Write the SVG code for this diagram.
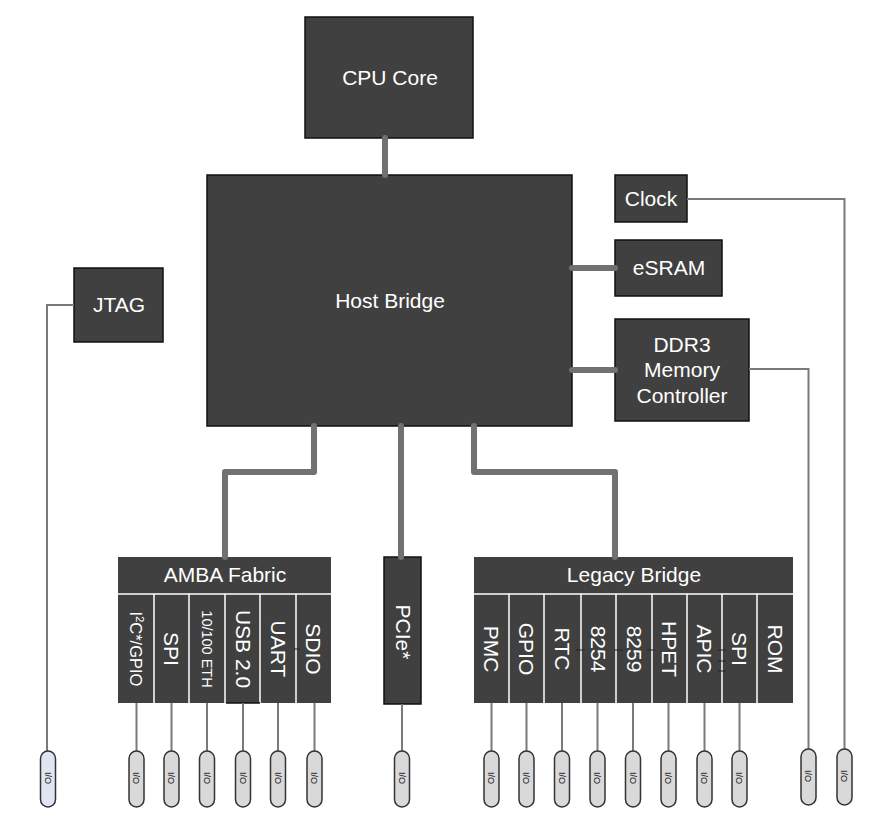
<svg xmlns="http://www.w3.org/2000/svg" width="892" height="820" viewBox="0 0 892 820">
<style>
.box{fill:#404040;stroke:#111;stroke-width:1.5}
.blk{fill:#404040}
.sep{stroke:#fff;stroke-width:1.5}
.t{font-family:"Liberation Sans",Arial,sans-serif;font-size:21px;fill:#fff;text-anchor:middle}
.bus{fill:none;stroke:#717171;stroke-width:6;stroke-linecap:round;stroke-linejoin:round}
.wire{fill:none;stroke:#7a7a7a;stroke-width:2}
.pill{fill:#d9d9d9;stroke:#333;stroke-width:1.5}
.pill2{fill:#dfe6f2;stroke:#333;stroke-width:1.5}
.io{font-family:"Liberation Sans",Arial,sans-serif;font-size:9px;fill:#111;text-anchor:middle}
.dash{stroke:#222;stroke-width:1}
</style>
<rect width="892" height="820" fill="#fff"/>

<g id="cpu-core"><rect class="box" x="305" y="17" width="168" height="121"/><text class="t" x="390" y="85">CPU Core</text></g>
<g id="host-bridge"><rect class="box" x="207" y="175" width="365" height="251"/><text class="t" x="390" y="308">Host Bridge</text></g>
<g id="clock"><rect class="box" x="615" y="175" width="72" height="47"/><text class="t" x="651" y="206">Clock</text></g>
<g id="esram"><rect class="box" x="615" y="240" width="107" height="56"/><text class="t" x="669" y="275">eSRAM</text></g>
<g id="ddr3"><rect class="box" x="615" y="319" width="134" height="102"/><text class="t" x="682" y="352">DDR3</text><text class="t" x="682" y="377">Memory</text><text class="t" x="682" y="403">Controller</text></g>
<g id="jtag"><rect class="box" x="74" y="268" width="89" height="74"/><text class="t" x="119" y="312">JTAG</text></g>

<g id="amba-fabric">
<rect class="blk" x="118" y="557" width="213" height="146"/>
<text class="t" x="225" y="582">AMBA Fabric</text>
<line class="sep" x1="118" y1="594" x2="331" y2="594"/>
<line class="sep" x1="154" y1="594" x2="154" y2="703"/>
<line class="sep" x1="189" y1="594" x2="189" y2="703"/>
<line class="sep" x1="225" y1="594" x2="225" y2="703"/>
<line class="sep" x1="260" y1="594" x2="260" y2="703"/>
<line class="sep" x1="296" y1="594" x2="296" y2="703"/>
<line x1="226" y1="703" x2="260" y2="703" stroke="#111" stroke-width="1.5"/>
<line class="dash" x1="294" y1="649" x2="300" y2="649"/>
<text class="t" style="font-size:16.5px" transform="translate(136,649) rotate(90)" y="6">I<tspan font-size="11" dy="-6">2</tspan><tspan dy="6">C*/GPIO</tspan></text>
<text class="t" transform="translate(171.5,649) rotate(90)" y="7.5">SPI</text>
<text class="t" style="font-size:14.5px" transform="translate(207,649) rotate(90)" y="5.2">10/100 ETH</text>
<text class="t" transform="translate(243,649) rotate(90)" y="7.5">USB 2.0</text>
<text class="t" transform="translate(278,649) rotate(90)" y="7.5">UART</text>
<text class="t" transform="translate(313.5,649) rotate(90)" y="7.5">SDIO</text>
</g>

<g id="pcie"><rect class="box" x="384" y="557" width="37" height="147"/><text class="t" transform="translate(403,632) rotate(90)" y="7.5">PCIe*</text></g>

<g id="legacy-bridge">
<rect class="blk" x="474" y="557" width="319" height="146"/>
<text class="t" x="634" y="582">Legacy Bridge</text>
<line class="sep" x1="474" y1="594" x2="793" y2="594"/>
<line class="sep" x1="509" y1="594" x2="509" y2="703"/>
<line class="sep" x1="544" y1="594" x2="544" y2="703"/>
<line class="sep" x1="581" y1="594" x2="581" y2="703"/>
<line class="sep" x1="616" y1="594" x2="616" y2="703"/>
<line class="sep" x1="652" y1="594" x2="652" y2="703"/>
<line class="sep" x1="687" y1="594" x2="687" y2="703"/>
<line class="sep" x1="722" y1="594" x2="722" y2="703"/>
<line class="sep" x1="757" y1="594" x2="757" y2="703"/>
<line class="dash" x1="576" y1="650" x2="585" y2="650"/>
<line class="dash" x1="614" y1="650" x2="623" y2="650"/>
<line class="dash" x1="647" y1="650" x2="655" y2="650"/>
<line class="dash" x1="718" y1="650" x2="726" y2="650"/>
<line class="dash" x1="718" y1="661" x2="726" y2="661"/>
<line class="dash" x1="718" y1="671" x2="726" y2="671"/>
<text class="t" transform="translate(491.5,649) rotate(90)" y="7.5">PMC</text>
<text class="t" transform="translate(526.5,649) rotate(90)" y="7.5">GPIO</text>
<text class="t" transform="translate(562.5,649) rotate(90)" y="7.5">RTC</text>
<text class="t" transform="translate(598.5,649) rotate(90)" y="7.5">8254</text>
<text class="t" transform="translate(634,649) rotate(90)" y="7.5">8259</text>
<text class="t" transform="translate(669.5,649) rotate(90)" y="7.5">HPET</text>
<text class="t" transform="translate(704.5,649) rotate(90)" y="7.5">APIC</text>
<text class="t" transform="translate(739.5,649) rotate(90)" y="7.5">SPI</text>
<text class="t" transform="translate(775,649) rotate(90)" y="7.5">ROM</text>
</g>

<g id="connectors">
<path class="bus" d="M385 138 V175"/>
<path class="bus" d="M572 268 H615"/>
<path class="bus" d="M572 370 H615"/>
<path class="bus" d="M314 426 V472 H225 V557"/>
<path class="bus" d="M401 426 V557"/>
<path class="bus" d="M474 426 V472 H615 V557"/>
<path class="wire" d="M74 305 H47 V751"/>
<path class="wire" d="M749 369 H808.5 V749"/>
<path class="wire" d="M687 199 H844.5 V749"/>
<path class="wire" d="M136.5 703 V751 M171.5 703 V751 M207 703 V751 M243 703 V751 M278 703 V751 M314.5 703 V751 M402 704 V751 M491.5 703 V751 M526.5 703 V751 M562 703 V751 M597.5 703 V751 M633 703 V751 M668.5 703 V751 M704.5 703 V751 M739.5 703 V751"/>
</g>

<g id="io-pins">
<g id="io-jtag"><rect class="pill2" x="40.5" y="751" width="15" height="56" rx="7.5"/><text class="io" transform="translate(48,778) rotate(90)" y="3.2">I/O</text></g>
<g id="io-1"><rect class="pill" x="129" y="751" width="15" height="56" rx="7.5"/><text class="io" transform="translate(136.5,778) rotate(90)" y="3.2">I/O</text></g>
<g id="io-2"><rect class="pill" x="164" y="751" width="15" height="56" rx="7.5"/><text class="io" transform="translate(171.5,778) rotate(90)" y="3.2">I/O</text></g>
<g id="io-3"><rect class="pill" x="199.5" y="751" width="15" height="56" rx="7.5"/><text class="io" transform="translate(207,778) rotate(90)" y="3.2">I/O</text></g>
<g id="io-4"><rect class="pill" x="235.5" y="751" width="15" height="56" rx="7.5"/><text class="io" transform="translate(243,778) rotate(90)" y="3.2">I/O</text></g>
<g id="io-5"><rect class="pill" x="270.5" y="751" width="15" height="56" rx="7.5"/><text class="io" transform="translate(278,778) rotate(90)" y="3.2">I/O</text></g>
<g id="io-6"><rect class="pill" x="307" y="751" width="15" height="56" rx="7.5"/><text class="io" transform="translate(314.5,778) rotate(90)" y="3.2">I/O</text></g>
<g id="io-7"><rect class="pill" x="394.5" y="751" width="15" height="56" rx="7.5"/><text class="io" transform="translate(402,778) rotate(90)" y="3.2">I/O</text></g>
<g id="io-8"><rect class="pill" x="484" y="751" width="15" height="56" rx="7.5"/><text class="io" transform="translate(491.5,778) rotate(90)" y="3.2">I/O</text></g>
<g id="io-9"><rect class="pill" x="519" y="751" width="15" height="56" rx="7.5"/><text class="io" transform="translate(526.5,778) rotate(90)" y="3.2">I/O</text></g>
<g id="io-10"><rect class="pill" x="554.5" y="751" width="15" height="56" rx="7.5"/><text class="io" transform="translate(562,778) rotate(90)" y="3.2">I/O</text></g>
<g id="io-11"><rect class="pill" x="590" y="751" width="15" height="56" rx="7.5"/><text class="io" transform="translate(597.5,778) rotate(90)" y="3.2">I/O</text></g>
<g id="io-12"><rect class="pill" x="625.5" y="751" width="15" height="56" rx="7.5"/><text class="io" transform="translate(633,778) rotate(90)" y="3.2">I/O</text></g>
<g id="io-13"><rect class="pill" x="661" y="751" width="15" height="56" rx="7.5"/><text class="io" transform="translate(668.5,778) rotate(90)" y="3.2">I/O</text></g>
<g id="io-14"><rect class="pill" x="697" y="751" width="15" height="56" rx="7.5"/><text class="io" transform="translate(704.5,778) rotate(90)" y="3.2">I/O</text></g>
<g id="io-15"><rect class="pill" x="732" y="751" width="15" height="56" rx="7.5"/><text class="io" transform="translate(739.5,778) rotate(90)" y="3.2">I/O</text></g>
<g id="io-ddr"><rect class="pill" x="801" y="749" width="15" height="56" rx="7.5"/><text class="io" transform="translate(808.5,776) rotate(90)" y="3.2">I/O</text></g>
<g id="io-clock"><rect class="pill" x="837" y="749" width="15" height="56" rx="7.5"/><text class="io" transform="translate(844.5,776) rotate(90)" y="3.2">I/O</text></g>
</g>
</svg>
